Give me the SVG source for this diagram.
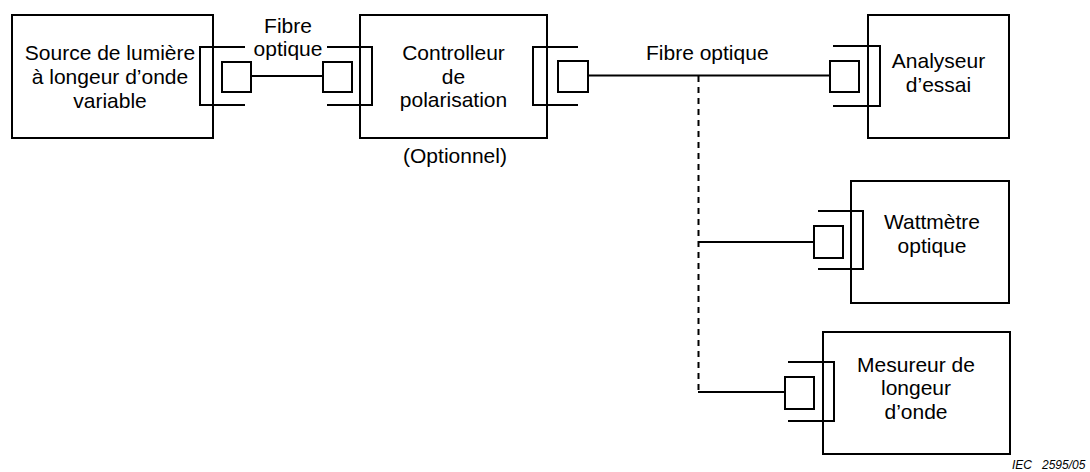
<svg xmlns="http://www.w3.org/2000/svg" width="1090" height="472" viewBox="0 0 1090 472">
<style>
.box{fill:none;stroke:#000;stroke-width:2}
.ln{fill:none;stroke:#000;stroke-width:2}
.dash{fill:none;stroke:#000;stroke-width:2;stroke-dasharray:6 5}
text{font-family:"Liberation Sans",Arial,sans-serif;font-size:21px;fill:#000}
.c{text-anchor:middle}
.iec{font-size:12px;font-style:italic}
</style>
<rect width="1090" height="472" fill="#fff"/>
<g id="source">
<rect class="box" x="12" y="15" width="201" height="123"/>
<path class="ln" d="M245,47 H200 V105 H245"/>
<rect class="box" x="222" y="62" width="29" height="30"/>
<text class="c" x="110" y="60">Source de lumière</text>
<text class="c" x="110" y="84">à longeur d’onde</text>
<text class="c" x="110" y="108">variable</text>
</g>
<g id="controlleur">
<rect class="box" x="360" y="15" width="187" height="123"/>
<path class="ln" d="M327,47 H372 V105 H327"/>
<rect class="box" x="323" y="62" width="29" height="30"/>
<path class="ln" d="M578,47 H533 V105 H578"/>
<rect class="box" x="558" y="61" width="30" height="31"/>
<text class="c" x="453.5" y="60">Controlleur</text>
<text class="c" x="453.5" y="83.5">de</text>
<text class="c" x="453.5" y="107">polarisation</text>
<text class="c" x="455" y="163">(Optionnel)</text>
</g>
<g id="analyseur">
<rect class="box" x="868" y="15" width="141" height="123"/>
<path class="ln" d="M833,46 H880 V106 H833"/>
<rect class="box" x="830" y="61" width="29" height="31"/>
<text class="c" x="938.5" y="68">Analyseur</text>
<text class="c" x="938.5" y="92">d’essai</text>
</g>
<g id="wattmetre">
<rect class="box" x="851" y="181" width="158" height="122"/>
<path class="ln" d="M818,211 H863 V269 H818"/>
<rect class="box" x="814" y="226" width="29" height="32"/>
<text class="c" x="932" y="229">Wattmètre</text>
<text class="c" x="932" y="253">optique</text>
</g>
<g id="mesureur">
<rect class="box" x="823" y="332" width="187" height="122"/>
<path class="ln" d="M788,362 H834 V421 H788"/>
<rect class="box" x="785" y="377" width="29" height="32"/>
<text class="c" x="916" y="371.5">Mesureur de</text>
<text class="c" x="916" y="395">longeur</text>
<text class="c" x="916" y="419">d’onde</text>
</g>
<g id="connectors">
<line class="ln" x1="251" y1="76" x2="323" y2="76"/>
<line class="ln" x1="588" y1="75.5" x2="830" y2="75.5"/>
<line class="dash" x1="698.5" y1="76" x2="698.5" y2="392"/>
<line class="ln" x1="698" y1="242" x2="814" y2="242"/>
<line class="ln" x1="698" y1="392" x2="785" y2="392"/>
<text class="c" x="288" y="33">Fibre</text>
<text class="c" x="288" y="56">optique</text>
<text x="646" y="60">Fibre optique</text>
</g>
<text class="iec" x="1012" y="468.5" xml:space="preserve">IEC   2595/05</text>
</svg>
